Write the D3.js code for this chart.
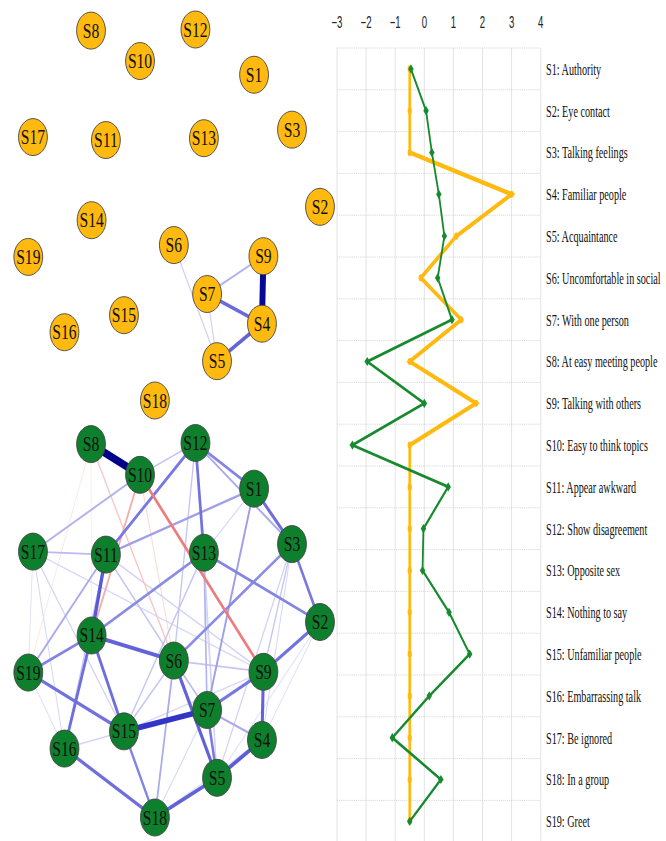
<!DOCTYPE html>
<html>
<head>
<meta charset="utf-8">
<script src="https://cdn.jsdelivr.net/npm/d3@7"></script>
<style>
  html, body { margin: 0; padding: 0; background: #ffffff; }
  svg { display: block; }
</style>
</head>
<body>
<svg id="chart" width="666" height="841"></svg>
<script>
// ---- Items ----
const nodes = ["S1","S2","S3","S4","S5","S6","S7","S8","S9","S10",
               "S11","S12","S13","S14","S15","S16","S17","S18","S19"];
const itemLabels = ["Authority","Eye contact","Talking feelings","Familiar people",
  "Acquaintance","Uncomfortable in social","With one person","At easy meeting people",
  "Talking with others","Easy to think topics","Appear awkward","Show disagreement",
  "Opposite sex","Nothing to say","Unfamiliar people","Embarrassing talk",
  "Be ignored","In a group","Greet"];

// Network layout (normalised 0..1), one row per node in the order above
const layoutX = [0.774,1.000,0.904,0.801,0.647,0.499,0.613,0.215,0.806,0.383,
                 0.266,0.573,0.602,0.217,0.328,0.124,0.016,0.434,0.000];
const layoutY = [0.122,0.478,0.270,0.793,0.894,0.581,0.713,0.003,0.611,0.085,
                 0.298,0.000,0.293,0.514,0.770,0.816,0.290,1.000,0.613];

// Edge weights of the first network (signed partial correlations)
const edgesA = [
  ["S9","S4",0.95],["S5","S4",0.45],["S7","S4",0.42],
  ["S7","S9",0.20],["S6","S5",0.12],["S7","S5",0.12]
];

// Edge weights of the second network
const edgesB = [
  ["S8","S10",1.00],["S15","S7",0.68],["S11","S14",0.50],["S6","S5",0.45],
  ["S5","S4",0.48],["S9","S4",0.45],["S18","S5",0.45],["S16","S18",0.40],
  ["S14","S6",0.45],["S14","S15",0.40],["S14","S16",0.40],["S19","S15",0.38],
  ["S19","S14",0.32],["S12","S13",0.38],["S12","S1",0.32],["S1","S3",0.40],
  ["S12","S3",0.22],["S3","S2",0.35],["S13","S2",0.32],["S2","S9",0.38],
  ["S9","S7",0.35],["S7","S5",0.35],["S15","S18",0.32],["S11","S12",0.35],
  ["S11","S1",0.25],["S17","S10",0.20],["S17","S11",0.18],["S13","S14",0.30],
  ["S3","S6",0.30],["S1","S7",0.25],
  ["S10","S9",-0.35],["S10","S14",-0.22],["S8","S6",-0.15],["S8","S19",-0.07],
  ["S8","S14",-0.06],["S10","S6",-0.10],
  ["S17","S19",0.08],["S17","S16",0.10],["S17","S15",0.12],["S19","S11",0.22],
  ["S19","S16",0.08],["S16","S11",0.15],["S16","S15",0.12],["S12","S10",0.15],
  ["S12","S6",0.15],["S12","S5",0.10],["S13","S7",0.20],["S13","S15",0.15],
  ["S13","S5",0.12],["S3","S9",0.15],["S3","S5",0.12],["S3","S4",0.10],
  ["S2","S4",0.08],["S2","S5",0.08],["S9","S6",0.15],["S9","S15",0.10],
  ["S7","S4",0.22],["S6","S7",0.18],["S6","S15",0.15],["S6","S18",0.22],
  ["S18","S4",0.08],["S18","S7",0.10],["S11","S6",0.15],["S11","S9",0.12],
  ["S1","S13",0.10],["S17","S9",0.10]
];

// Profile values per item
const yellowValues = [-0.5,-0.5,-0.5,3.0,1.1,-0.12,1.27,-0.5,1.78,-0.5,
                      -0.5,-0.5,-0.5,-0.5,-0.5,-0.5,-0.5,-0.5,-0.5];
const greenValues  = [-0.46,0.06,0.26,0.5,0.69,0.46,0.95,-1.96,0.0,-2.47,
                      0.82,-0.03,-0.06,0.85,1.56,0.17,-1.1,0.57,-0.5];
const xTicks = [-3,-2,-1,0,1,2,3,4];

// ---- Drawing ----
const svg = d3.select("#chart");
const YELLOW = "#FFB90F", GREEN = "#0E7F2C";

// left panel is drawn with a horizontal compression
const kL = 0.78;
const gL = svg.append("g").attr("transform", `scale(${kL},1)`);
const xNet = d3.scaleLinear().domain([0,1]).range([28.3/kL, 320/kL]);

const posCol = d3.scaleLinear().domain([0,0.35,0.7,1])
  .range(["#ffffff","#7878e0","#3030c8","#00008b"]).clamp(true);
const negCol = d3.scaleLinear().domain([0,0.35])
  .range(["#ffffff","#ee7c7c"]).clamp(true);
const widthScale = d3.scaleLinear().domain([0,1]).range([0.6,8]);

function drawNetwork(edges, yRange, fill) {
  const yNet = d3.scaleLinear().domain([0,1]).range(yRange);
  const g = gL.append("g");
  const idx = name => nodes.indexOf(name);
  const sorted = edges.slice().sort((a,b) => Math.abs(a[2]) - Math.abs(b[2]));
  g.selectAll("line.edge").data(sorted).join("line")
    .attr("class","edge")
    .attr("x1", d => xNet(layoutX[idx(d[0])]))
    .attr("y1", d => yNet(layoutY[idx(d[0])]))
    .attr("x2", d => xNet(layoutX[idx(d[1])]))
    .attr("y2", d => yNet(layoutY[idx(d[1])]))
    .attr("stroke", d => d[2] >= 0 ? posCol(d[2]) : negCol(-d[2]))
    .attr("stroke-width", d => widthScale(Math.abs(d[2])))
    .attr("stroke-linecap","butt");
  const ng = g.selectAll("g.node").data(nodes).join("g")
    .attr("class","node")
    .attr("transform", (d,i) => `translate(${xNet(layoutX[i])},${yNet(layoutY[i])})`);
  ng.append("circle").attr("r", 18.5)
    .attr("fill", fill).attr("stroke", "#444").attr("stroke-width", 1);
  ng.append("text").text(d => d)
    .attr("text-anchor","middle").attr("dy","0.35em")
    .attr("font-family","'Liberation Serif', 'Times New Roman', serif")
    .attr("font-size", 20).attr("fill","#111");
}

drawNetwork(edgesA, [29.5, 400.5], YELLOW);
drawNetwork(edgesB, [443, 817.5], GREEN);

// right panel: item profile
const kR = 0.6;
const gR = svg.append("g").attr("transform", `scale(${kR},1)`);
const x = d3.scaleLinear().domain([-3,4]).range([337/kR, 540.7/kR]);
const y = d3.scaleBand().domain(nodes).range([48, 48 + 19*41.8]);
const yc = d => y(d) + y.bandwidth()/2;

// vertical grid
gR.selectAll("line.vg").data(xTicks).join("line")
  .attr("class","vg")
  .attr("x1", d => x(d)).attr("x2", d => x(d))
  .attr("y1", 48).attr("y2", 841)
  .attr("stroke","#e2e2e2").attr("stroke-width", 1.6);
// horizontal grid (band boundaries)
gR.selectAll("line.hg").data(nodes).join("line")
  .attr("class","hg")
  .attr("x1", x(-3)).attr("x2", x(4))
  .attr("y1", d => y(d)).attr("y2", d => y(d))
  .attr("stroke","#cfcfcf").attr("stroke-width", 1)
  .attr("stroke-dasharray","2,1.5");

// tick labels on top
const fmt = d3.format("d");
gR.selectAll("text.tick").data(xTicks).join("text")
  .attr("class","tick")
  .attr("x", d => x(d)).attr("y", 28)
  .attr("text-anchor","middle")
  .attr("font-family","'Liberation Sans', Arial, sans-serif")
  .attr("font-size", 16).attr("fill","#222")
  .text(d => fmt(d));

// item labels
gR.selectAll("text.item").data(nodes).join("text")
  .attr("class","item")
  .attr("x", 546/kR).attr("y", d => yc(d) + 6)
  .attr("font-family","'Liberation Serif', 'Times New Roman', serif")
  .attr("font-size", 17).attr("fill","#111")
  .text((d,i) => `${d}: ${itemLabels[i]}`);

function drawProfile(values, color, width, symbol) {
  const pts = values.map((v,i) => [x(v), yc(nodes[i])]);
  gR.append("path").datum(pts)
    .attr("d", d3.line())
    .attr("fill","none").attr("stroke", color)
    .attr("stroke-width", width).attr("stroke-linejoin","miter");
  gR.selectAll(null).data(pts).join("path")
    .attr("transform", d => `translate(${d[0]},${d[1]})` + (symbol === d3.symbolSquare ? " rotate(45)" : ""))
    .attr("d", d3.symbol().type(symbol).size(symbol === d3.symbolSquare ? 42 : 40))
    .attr("fill", color);
}
drawProfile(yellowValues, YELLOW, 4.5, d3.symbolCircle);
drawProfile(greenValues, "#178A2F", 3, d3.symbolSquare);
</script>
</body>
</html>
